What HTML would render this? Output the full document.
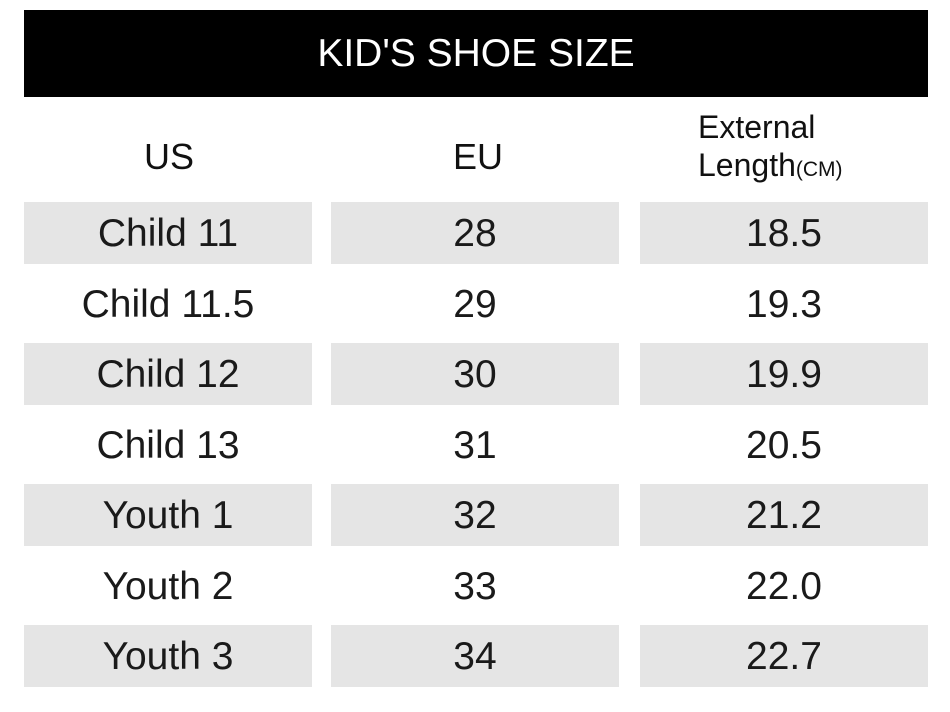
<!DOCTYPE html>
<html><head><meta charset="utf-8"><style>
body{margin:0;width:950px;height:712px;background:#fff;position:relative;font-family:"Liberation Sans",sans-serif;overflow:hidden}
.t{position:absolute;left:24px;top:10px;width:904px;height:87px;background:#000;color:#fff;font-size:39px;line-height:87px;text-align:center}
.h{position:absolute;font-size:36px;color:#111;transform:translateX(-50%);top:136px}
.cell{position:absolute;height:62px;line-height:64px;text-align:center;font-size:39px;color:#1a1a1a}
.g{background:#e5e5e5}
</style></head><body>
<div class="t">KID'S SHOE SIZE</div>
<div class="h" style="left:169px">US</div>
<div class="h" style="left:478px">EU</div>
<div style="position:absolute;left:698px;top:108px;font-size:32px;line-height:38px;color:#111">External<br>Length<span style="font-size:21px">(CM)</span></div>
<div id="rows"></div>
<script>
const usSizes=["Child 11","Child 11.5","Child 12","Child 13","Youth 1","Youth 2","Youth 3"];
const euSizes=["28","29","30","31","32","33","34"];
const lengths=["18.5","19.3","19.9","20.5","21.2","22.0","22.7"];
const cols=[[24,288],[331,288],[640,288]];
const rows=document.getElementById('rows');
for(let i=0;i<usSizes.length;i++){
  const y=202+i*70.5;
  [usSizes[i],euSizes[i],lengths[i]].forEach((v,c)=>{
    const d=document.createElement('div');
    d.className='cell'+(i%2==0?' g':'');
    d.style.left=cols[c][0]+'px';d.style.width=cols[c][1]+'px';d.style.top=y+'px';
    d.textContent=v;
    
    
    rows.appendChild(d);
  });
}
</script>
</body></html>
